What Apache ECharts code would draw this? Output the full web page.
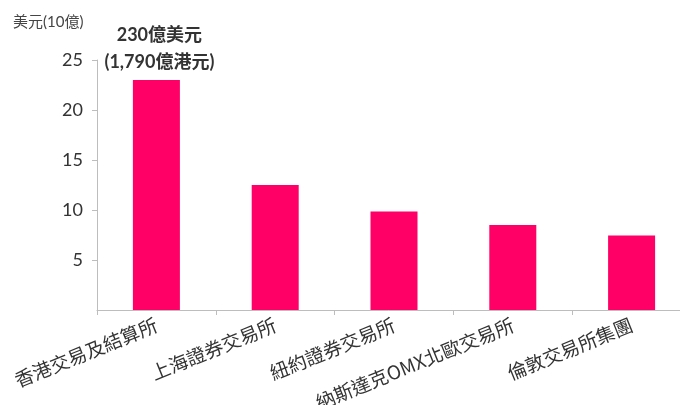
<!DOCTYPE html>
<html><head><meta charset="utf-8">
<script src="https://cdn.jsdelivr.net/npm/echarts@6/dist/echarts.min.js"></script>
<style>html,body{margin:0;padding:0;background:#fff}#c{width:680px;height:405px}</style>
</head><body><div id="c"></div>
<script>
const categories = ['香港交易及結算所','上海證券交易所','紐約證券交易所','納斯達克OMX北歐交易所','倫敦交易所集團'];
const values = [23.0, 12.5, 9.85, 8.5, 7.45];
const yTicks = { min: 0, max: 25, interval: 5 };
const unitTitle = '美元(10億)';
const annotation = ['230億美元', '(1,790億港元)'];

const latin = "Lato, 'Noto Sans CJK TC', sans-serif";
const cjk = "'Noto Sans CJK TC', sans-serif";

const chart = echarts.init(document.getElementById('c'), null, {renderer:'canvas'});
chart.setOption({
  animation: false,
  backgroundColor: '#fff',
  title: {
    text: unitTitle, left: 8, top: 10,
    textStyle: { fontFamily: latin, fontSize: 15, fontWeight: 'normal', color: '#444' }
  },
  grid: { left: 97, top: 60, width: 594, height: 250, containLabel: false, outerBoundsMode: 'none' },
  xAxis: {
    type: 'category', data: categories,
    axisLine: { lineStyle: { color: '#bdbdbd', width: 1 } },
    axisTick: { show: true, length: 5, lineStyle: { color: '#bdbdbd' } },
    axisLabel: { rotate: 22, margin: 14, interval: 0, fontFamily: cjk, fontSize: 19, color: '#333' }
  },
  yAxis: {
    type: 'value', min: yTicks.min, max: yTicks.max, interval: yTicks.interval,
    splitLine: { show: false },
    axisLine: { show: true, lineStyle: { color: '#bdbdbd', width: 1 } },
    axisTick: { show: true, length: 5, lineStyle: { color: '#bdbdbd' } },
    axisLabel: { showMinLabel: false, margin: 14, fontFamily: latin, fontSize: 18, color: '#333' }
  },
  series: [{
    type: 'bar', barWidth: 47,
    itemStyle: { color: '#FF0066' },
    data: values.map((v, i) => i === 0 ? {
      value: v,
      label: {
        show: true, position: 'top', distance: 4, offset: [3, 0],
        formatter: annotation.join('\n'),
        fontFamily: latin, fontSize: 18, fontWeight: 'bold', color: '#333', lineHeight: 27
      }
    } : v)
  }]
});
</script></body></html>
